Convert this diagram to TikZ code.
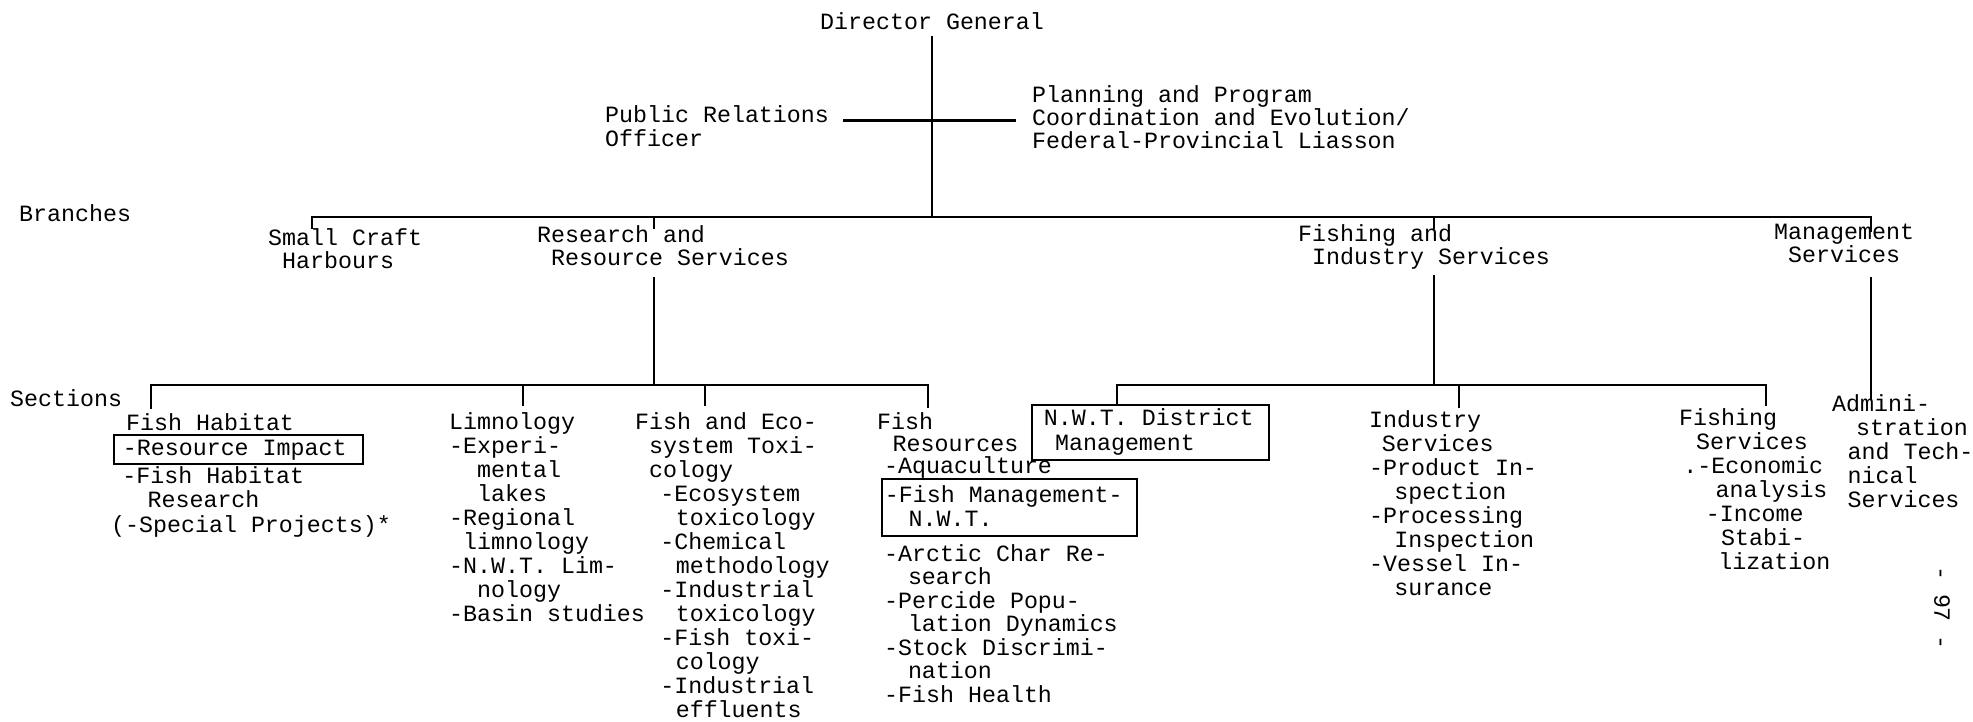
\documentclass[tikz,border=0pt]{standalone}
\usepackage{fontspec}
\setmonofont{Liberation Mono}

% typewriter-style text: one column = 14pt
\newlength\chw \setlength\chw{14pt}
\newcommand\ind[1]{\hspace*{#1\chw}}
\newcommand\chartfont{\fontsize{23.3}{24}\selectfont\ttfamily}
% left-aligned block of lines, baseline = first line, fixed line pitch
\newcommand\lines[2][24pt]{\vtop{\baselineskip=#1\relax\lineskiplimit=-100pt\lineskip=0pt\let\\\cr\halign{##\hfil\cr#2\crcr}}}

\tikzset{
  lbl/.style={anchor=base west, inner sep=0pt, font=\chartfont},
  boxed/.style={lbl, draw, line width=1.8pt, inner ysep=0pt},
  link/.style={line width=2.4pt},
}

\begin{document}
\begin{tikzpicture}[x=1pt,y=-1pt]
\useasboundingbox (0,0) rectangle (1973,722);
\fill[white] (0,0) rectangle (1973,722);

% ---------- head office ----------
\node[lbl] (dg) at (820,30) {Director General};
\node[lbl] (pr) at (605,123) {\lines{Public Relations\\Officer}};
\node[lbl] (pp) at (1032,103) {\lines[23pt]{Planning and Program\\Coordination and Evolution/\\Federal-Provincial Liasson}};

\coordinate (dgtop) at (932,36);
\coordinate (prend) at (843,121);
\coordinate (ppend) at (1016,121);

% ---------- branches ----------
\node[lbl] (brl) at (19,222) {Branches};
\node[lbl] (sch) at (268,245) {\lines[23pt]{Small Craft\\\ind{1}Harbours}};
\node[lbl] (rrs) at (537,243) {\lines[23pt]{Research and\\\ind{1}Resource Services}};
\node[lbl] (fis) at (1298,241) {\lines[23pt]{Fishing and\\\ind{1}Industry Services}};
\node[lbl] (mgs) at (1774,240) {\lines[23pt]{Management\\\ind{1}Services}};

\coordinate (bDG) at (932,217);
\coordinate (bSC) at (312,217);  \coordinate (tSC) at (312,229);
\coordinate (bRR) at (654,217);  \coordinate (tRR) at (654,229);
\coordinate (bFI) at (1434,217); \coordinate (tFI) at (1434,229);
\coordinate (bMG) at (1871,217); \coordinate (tMG) at (1871,232);

\coordinate (dRR) at (654,277);  \coordinate (sRR) at (654,385);
\coordinate (dFI) at (1434,275); \coordinate (sFI) at (1434,385);
\coordinate (dMG) at (1871,277); \coordinate (sMG) at (1871,400);

% ---------- sections ----------
\node[lbl] (secl) at (10,406) {Sections};

% Research and Resource Services
\node[lbl] (fh) at (126,430) {Fish Habitat};
\node[boxed, inner xsep=9pt, text height=20pt, text depth=9pt] (ri) at (113,455)
  {\makebox[231pt][l]{-Resource Impact}};
\node[lbl] (fhr) at (111,483) {\lines[24.5pt]{\ind{0.8}-Fish Habitat\\\ind{2.6}Research\\(-Special Projects)*}};

\node[lbl] (lim) at (449,429) {\lines{Limnology\\-Experi-\\\ind{2}mental\\\ind{2}lakes\\-Regional\\\ind{1}limnology\\-N.W.T. Lim-\\\ind{2}nology\\-Basin studies}};

\node[lbl] (fet) at (635,429) {\lines{Fish and Eco-\\\ind{1}system Toxi-\\\ind{1}cology\\\ind{1.8}-Ecosystem\\\ind{2.9}toxicology\\\ind{1.8}-Chemical\\\ind{2.9}methodology\\\ind{1.8}-Industrial\\\ind{2.9}toxicology\\\ind{1.8}-Fish toxi-\\\ind{2.9}cology\\\ind{1.8}-Industrial\\\ind{2.9}effluents}};

\node[lbl] (fr) at (877,429) {\lines[22pt]{Fish\\\ind{1.1}Resources\\\ind{0.5}-Aquaculture}};
\node[boxed, inner xsep=3pt, text height=23pt, text depth=34pt] (fm) at (881,502)
  {\makebox[249pt][l]{\lines{-Fish Management-\\\ind{1.7}N.W.T.}}};
\node[lbl] (frr) at (884,561) {\lines[23.5pt]{-Arctic Char Re-\\\ind{1.7}search\\-Percide Popu-\\\ind{1.7}lation Dynamics\\-Stock Discrimi-\\\ind{1.7}nation\\-Fish Health}};

% Fishing and Industry Services
\node[boxed, inner xsep=12pt, text height=20pt, text depth=35pt] (nwt) at (1031,425)
  {\makebox[213pt][l]{\lines[25pt]{N.W.T. District\\\ind{0.8}Management}}};
\node[lbl] (ins) at (1369,427) {\lines{Industry\\\ind{0.9}Services\\-Product In-\\\ind{1.8}spection\\-Processing\\\ind{1.8}Inspection\\-Vessel In-\\\ind{1.8}surance}};
\node[lbl] (fsv) at (1679,425) {\lines{Fishing\\\ind{1.2}Services\\\ind{0.3}.-Economic\\\ind{2.6}analysis\\\ind{1.9}-Income\\\ind{3}Stabi-\\\ind{2.8}lization}};

% Management Services
\node[lbl] (adm) at (1832,411) {\lines{Admini-\\\ind{1.7}stration\\\ind{1.1}and Tech-\\\ind{1.1}nical\\\ind{1.1}Services}};

% page number
\node[font=\chartfont, inner sep=0pt, rotate=-90] (pg) at (1942,608) {- 97 -};

% bars and ticks of the section level
\coordinate (sFH) at (151,385);  \coordinate (tFH) at (151,409);
\coordinate (sLI) at (523,385);  \coordinate (tLI) at (523,406);
\coordinate (sFE) at (705,385);  \coordinate (tFE) at (705,406);
\coordinate (sFR) at (928,385);  \coordinate (tFR) at (928,408);
\coordinate (sNW) at (1117,385); \coordinate (tNW) at (1117,405);
\coordinate (sIN) at (1459,385); \coordinate (tIN) at (1459,408);
\coordinate (sFS) at (1766,385); \coordinate (tFS) at (1766,406);

% ---------- connectors ----------
\draw[link] (dgtop) -- (bDG);
\draw[link, line width=3pt] (prend) -- (ppend);

\draw[link] (tSC) -- (bSC) -- (bMG) -- (tMG);
\draw[link] (bRR) -- (tRR);
\draw[link] (bFI) -- (tFI);

\draw[link] (dRR) -- (sRR);
\draw[link] (dFI) -- (sFI);
\draw[link] (dMG) -- (sMG);

\draw[link] (tFH) -- (sFH) -- (sFR) -- (tFR);
\draw[link] (sLI) -- (tLI);
\draw[link] (sFE) -- (tFE);

\draw[link] (tNW) -- (sNW) -- (sFS) -- (tFS);
\draw[link] (sIN) -- (tIN);
\end{tikzpicture}
\end{document}
